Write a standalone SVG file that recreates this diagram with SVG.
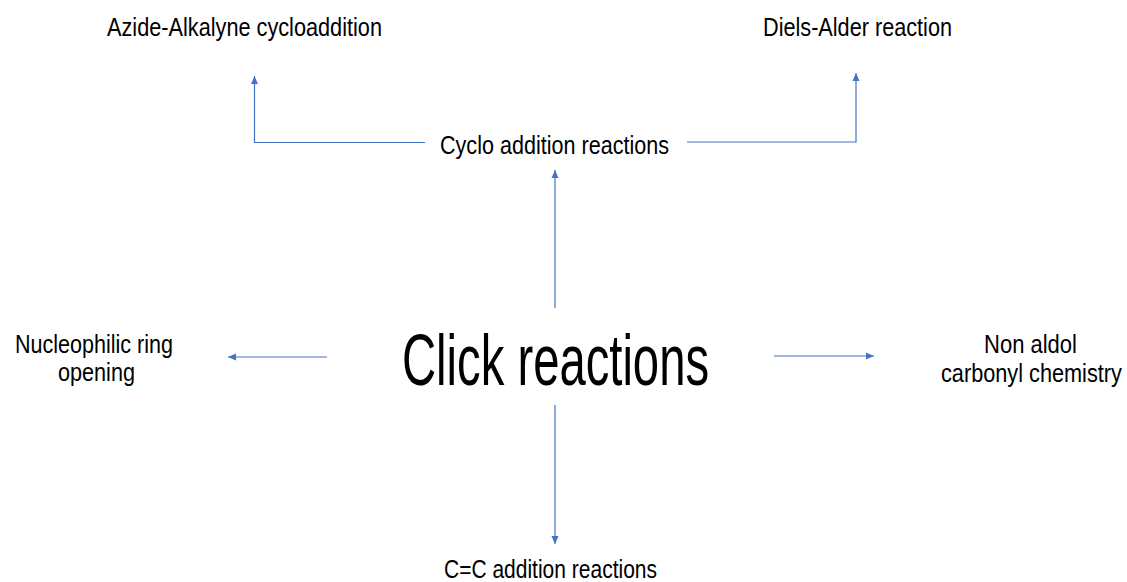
<svg xmlns="http://www.w3.org/2000/svg" width="1127" height="582" viewBox="0 0 1127 582">
<style>
.t{font-family:"Liberation Sans",Arial,sans-serif;fill:#000;}
.s{font-size:26px;}
.c{stroke:#4472C4;stroke-width:1.2;fill:none;marker-end:url(#ah);}
</style>
<defs>
<marker id="ah" markerUnits="userSpaceOnUse" markerWidth="10" markerHeight="10" viewBox="0 0 10 10" refX="9" refY="5" orient="auto">
<path d="M1,1.5 L9,5 L1,8.5 Z" fill="#4472C4"/>
</marker>
</defs>
<rect width="1127" height="582" fill="#fff"/>
<g id="connectors">
<path class="c" d="M425,142.5 H254.5 V76"/>
<path class="c" d="M687,142 H856 V73"/>
<path class="c" d="M555,308 V170"/>
<path class="c" d="M327,357 H228"/>
<path class="c" d="M774,356 H874"/>
<path class="c" d="M555,405 V544"/>
</g>
<g id="click"><text class="t" x="402" y="385" font-size="72" textLength="307" lengthAdjust="spacingAndGlyphs">Click reactions</text></g>
<g id="cyclo"><text class="t s" x="440" y="154" textLength="229" lengthAdjust="spacingAndGlyphs">Cyclo addition reactions</text></g>
<g id="azide"><text class="t s" x="107" y="35.5" textLength="275" lengthAdjust="spacingAndGlyphs">Azide-Alkalyne cycloaddition</text></g>
<g id="diels"><text class="t s" x="763" y="35.5" textLength="189" lengthAdjust="spacingAndGlyphs">Diels-Alder reaction</text></g>
<g id="nucleo"><text class="t s" x="15" y="353" textLength="158" lengthAdjust="spacingAndGlyphs">Nucleophilic ring</text><text class="t s" x="58" y="381" textLength="77" lengthAdjust="spacingAndGlyphs">opening</text></g>
<g id="nonaldol"><text class="t s" x="984" y="353" textLength="93" lengthAdjust="spacingAndGlyphs">Non aldol</text><text class="t s" transform="translate(941,382) scale(0.835,1)" x="0" y="0">carbonyl chemistry</text></g>
<g id="cc"><text class="t s" x="444" y="577.5" textLength="213" lengthAdjust="spacingAndGlyphs">C=C addition reactions</text></g>
</svg>
